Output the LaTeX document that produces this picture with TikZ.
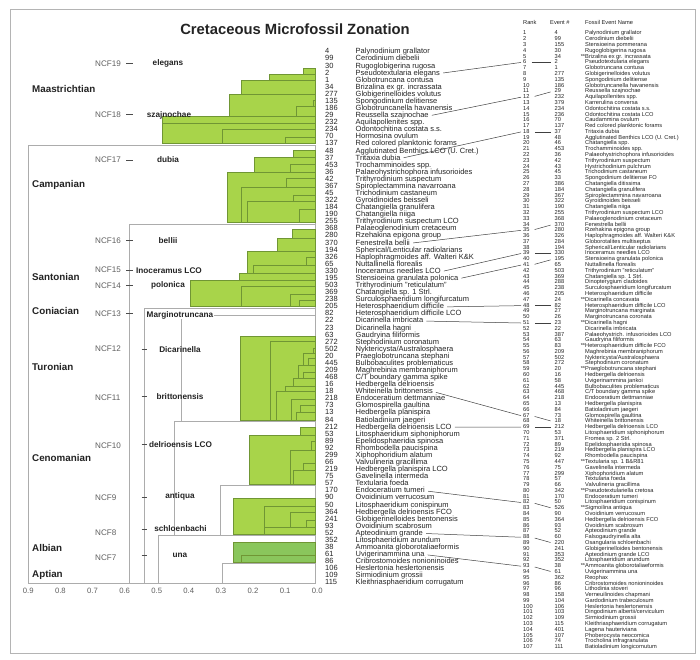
\documentclass[tikz,border=0pt]{standalone}
\usepackage{fontspec}
\setmainfont{Liberation Sans}
\definecolor{leaf}{RGB}{168,212,74}
\definecolor{leafdeep}{RGB}{138,198,92}
\definecolor{leafedge}{RGB}{112,150,52}
\definecolor{boxedge}{RGB}{172,172,172}
\definecolor{ink}{RGB}{35,35,35}
\definecolor{greytext}{RGB}{95,95,95}
\begin{document}
\begin{tikzpicture}[x=1pt,y=-1pt,
  gbox/.style={fill=leaf,draw=leafedge,line width=0.5pt},
  dbox/.style={fill=leafdeep,draw=leafedge,line width=0.5pt},
  wbox/.style={fill=white,draw=boxedge,line width=0.7pt},
  midtext/.style={anchor=west,inner xsep=1pt,inner ysep=0pt,text=ink,font=\fontsize{7.5}{8}\selectfont,text height=5.4pt,text depth=1.6pt},
  smalltext/.style={anchor=west,inner xsep=2pt,inner ysep=0pt,text=ink,font=\fontsize{5.7}{6}\selectfont,text height=4.1pt,text depth=1.2pt},
  stage/.style={anchor=west,inner sep=0pt,text=ink,font=\bfseries\fontsize{9.8}{10}\selectfont},
  ncf/.style={anchor=west,inner sep=0pt,text=greytext,font=\fontsize{8.1}{9}\selectfont},
  zone/.style={inner sep=0pt,text=ink,font=\bfseries\fontsize{8.2}{9}\selectfont},
  axlab/.style={inner sep=0pt,text=greytext,font=\fontsize{7.7}{8}\selectfont},
  tick/.style={draw=black!70,line width=0.8pt},
  link/.style={draw=black!75,line width=0.5pt}]
\useasboundingbox (0,0) rectangle (700,659);
\draw[boxedge!90,line width=1pt] (10,9) rectangle (695,653);
\node[font=\bfseries\fontsize{14.8}{16}\selectfont,text=ink] (title) at (295,29.3) {Cretaceous Microfossil Zonation};

\foreach \x/\y in {303.3/68.3,269/74.5,241/80,229.3/94,313.3/100,296/106.7,162/116.5,162/123.3,222.5/129.3,285/137.7}
  \draw[gbox] (\x,\y) rectangle (315.5,143.5);
\draw[wbox] (28.3,145) rectangle (315.5,583);
\foreach \x/\y in {293.3/150,254.3/157.3,290.7/164,227.7/172.5,286/178.3,241.3/187,293.3/195,247/201,299.3/209.3}
  \draw[gbox] (\x,\y) rectangle (315.5,222.7);
\draw[wbox] (129.3,224) rectangle (315.5,583);
\foreach \x/\y in {292.7/229.3,277.3/238,247.3/251,306.7/257,253.3/265.7,239.3/273.3,190/280,241.7/286.7,290/294,299.3/300}
  \draw[gbox] (\x,\y) rectangle (315.5,306.7);
\draw[wbox] (144,308) rectangle (315.5,583);
\draw[wbox] (181,315) rectangle (315.5,583);
\foreach \x/\y in {240.7/336.7,270/341.7,313.3/348,303.3/353,308.3/358.5,298/365,303/372,293.3/378.5,285/386,276/391.7,291/399,300/405.5,296/412}
  \draw[gbox] (\x,\y) rectangle (315.5,420);
\draw[wbox] (174,421) rectangle (315.5,583);
\foreach \x/\y in {300/427.3,249.3/435,311.7/441.7,290/450,303.3/463.3,293.3/470}
  \draw[gbox] (\x,\y) rectangle (315.5,484.3);
\draw[wbox] (220,485.5) rectangle (315.5,583);
\foreach \x/\y in {233.3/498.3,264.3/506,290/512,306/520,264.3/527.3}
  \draw[gbox] (\x,\y) rectangle (315.5,534.3);
\draw[wbox] (158.3,535) rectangle (315.5,583);
\foreach \x/\y in {233.3/542.3,241/555}
  \draw[dbox] (\x,\y) rectangle (315.5,562.3);
\draw[wbox] (222.5,563.5) rectangle (315.5,583);

\foreach \v [count=\j from 0] in {0.9,0.8,0.7,0.6,0.5,0.4,0.3,0.2,0.1,0.0}
  \node[axlab] (ax\j) at ({28.3+32.1*\j},591) {\v};

\foreach \t/\y [count=\s] in {Maastrichtian/89,Campanian/185,Santonian/276.7,Coniacian/311,Turonian/366.7,Cenomanian/458.3,Albian/547.7,Aptian/575}
  \node[stage] (stage\s) at (32,\y) {\t};
\foreach \z/\y in {19/63.3,18/114.3,17/160,16/240.7,15/270,14/285.7,13/313.3,12/348.3,11/397.7,10/445.7,9/497.3,8/532.3,7/557.7}
  \node[ncf] (ncf\z) at (95,\y) {NCF\z};
\foreach \y in {63.3,114.3,160,240.7,270,285.7,313.3}
  \draw[tick] (126,\y) -- (133.3,\y);
\foreach \y in {349,396.7,444,497.3,529,555}
  \draw[tick] (141.7,\y) -- (147.3,\y);
\foreach \x/\y/\t [count=\q] in {168/63.3/elegans,169/115/szajnochae,168/160/dubia,168/241/bellii,169/271/Inoceramus LCO,168/285.5/polonica}
  \node[zone] (zone\q) at (\x,\y) {\t};
\node[zone,fill=white,inner xsep=1pt] (zone7) at (180,315) {Marginotruncana};
\foreach \x/\y/\t [count=\q from 8] in {180/349.3/Dicarinella,180/397/brittonensis,180.5/444.7/delrioensis LCO,180/496/antiqua,180.5/529/schloenbachi,180/555/una}
  \node[zone] (zone\q) at (\x,\y) {\t};

\foreach \ev/\txt [count=\i] in {
  4/Palynodinium grallator, 99/Cerodinium diebelii, 30/Rugoglobigerina rugosa,
  2/Pseudotextularia elegans, 1/Globotruncana contusa, 34/Brizalina ex gr. incrassata,
  277/Globigerinelloides volutus, 135/Spongodinium delitiense, 186/Globotruncanella havanensis,
  29/Reussella szajnochae, 232/Aquilapollenites spp., 234/Odontochitina costata s.s.,
  70/Hormosina ovulum, 137/Red colored planktonic forams, 48/Agglutinated Benthics LCO (U. Cret.),
  37/Tritaxia dubia, 453/Trochamminoides spp., 36/Palaeohystrichophora infusorioides,
  42/Trithyrodinium suspectum, 367/Spiroplectammina navarroana, 45/Trichodinium castaneum,
  322/Gyroidinoides beisseli, 184/Chatangiella granulifera, 190/Chatangiella  niiga,
  255/Trithyrodinium suspectum LCO, 368/Palaeoglenodinium cretaceum, 280/Rzehakina epigona group,
  370/Fenestrella bellii, 194/{Spherical/Lenticular radiolarians}, 326/Haplophragmoides aff. Walteri K\&K,
  65/Nuttallinella florealis, 330/Inoceramus needles LCO, 195/Stensioeina granulata polonica,
  503/Trithyrodinium "reticulatum", 369/Chatangiella  sp. 1 Strl., 238/Surculosphaeridium longifurcatum,
  205/Heterosphaeridium difficile, 82/Heterosphaeridium difficile LCO, 22/Dicarinella imbricata,
  23/Dicarinella hagni, 63/Gaudryina filiformis, 272/Stephodinium coronatum,
  502/{Nyktericysta/Australosphaera}, 20/Praeglobotruncana stephani, 445/Bulbobaculites problematicus,
  209/Maghrebinia membraniphorum, 468/{C/T boundary gamma spike}, 16/Hedbergella delrioensis,
  18/Whiteinella brittonensis, 218/Endoceratium dettmanniae, 73/Glomospirella gaultina,
  13/Hedbergella planispira, 84/Batioladinium jaegeri, 212/Hedbergella delrioensis LCO,
  53/Litosphaeridium siphoniphorum, 89/Epelidosphaeridia spinosa, 92/Rhombodella paucispina,
  299/Xiphophoridium alatum, 66/Valvulineria gracillima, 219/Hedbergella planispira LCO,
  75/Gavelinella intermeda, 57/Textularia foeda, 170/Endoceratium tumeri,
  90/Ovoidinium verrucosum, 50/Litosphaeridium conispinum, 364/Hedbergella delrioensis FCO,
  241/Globigerinelloides bentonensis, 93/Ovoidinium scabrosum, 52/Apteodinium grande,
  352/Litosphaeridium arundum, 38/Ammoanita globorotaliaeformis, 61/Uvigerinammina una,
  86/Cribrostomoides nonioninoides, 106/Heslertonia heslertonensis, 109/Sirmiodinium grossii,
  115/Kleithriasphaeridium corrugatum} {
  \node[midtext] (m\i) at (324,{52+7.08*(\i-1)}) {\ev};
  \node[midtext] (n\i) at (354.5,{52+7.08*(\i-1)}) {\txt};
}

\node[smalltext] (hrank) at (521,22.7) {Rank};
\node[smalltext] (hevent) at (548,22.7) {Event \#};
\node[smalltext] (hname) at (583,22.7) {Fossil Event Name};
\foreach \ev/\txt [count=\k] in {
  4/Palynodinium grallator, 99/Cerodinium diebelii, 155/Stensioeina pommerana,
  30/Rugoglobigerina rugosa, 34/{\llap{**}Brizalina ex gr. incrassata}, 2/Pseudotextularia elegans,
  1/Globotruncana contusa, 277/Globigerinelloides volutus, 135/Spongodinium delitiense,
  186/Globotruncanella havanensis, 29/Reussella szajnochae, 232/Aquilapollenites spp.,
  379/Karrerulina conversa, 234/Odontochitina costata s.s., 236/Odontochitina costata LCO,
  70/Caudammina ovulum, 137/Red colored planktonic forams, 37/Tritaxia dubia,
  48/Agglutinated Benthics LCO (U. Cret.), 46/Chatangiella spp., 453/Trochamminoides spp.,
  36/Palaeohystrichophora infusorioides, 42/Trithyrodinium suspectum, 43/Hystrichodinium pulchrum,
  45/Trichodinium castaneum, 33/Spongodinium delitiense FO, 386/Chatangiella ditissima,
  184/Chatangiella granulifera, 367/Spiroplectammina navarroana, 322/Gyroidinoides beisseli,
  190/Chatangiella  niiga, 255/Trithyrodinium suspectum LCO, 368/Palaeoglenodinium cretaceum,
  370/Fenestrella bellii, 280/Rzehakina epigona group, 326/Haplophragmoides aff. Walteri K\&K,
  284/Globorotalites multiseptus, 194/{Spherical/Lenticular radiolarians}, 330/Inoceramus needles LCO,
  195/Stensioeina granulata polonica, 65/Nuttallinella florealis, 503/Trithyrodinium "reticulatum",
  369/Chatangiella  sp. 1 Strl., 288/Dinopterygium cladoides, 238/Surculosphaeridium longifurcatum,
  205/Heterosphaeridium difficile, 24/{\llap{**}Dicarinella concavata}, 82/Heterosphaeridium difficile LCO,
  27/Marginotruncana marginata, 26/Marginotruncana coronata, 23/{\llap{**}Dicarinella hagni},
  22/Dicarinella imbricata, 387/Palaeohystrich. infusorioides LCO, 63/Gaudryina filiformis,
  83/{\llap{**}Heterosphaeridium difficile FCO}, 209/Maghrebinia membraniphorum, 502/{Nyktericysta/Australosphaera},
  272/Stephodinium coronatum, 20/{\llap{**}Praeglobotruncana stephani}, 16/Hedbergella delrioensis,
  58/Uvigerinammina jankoi, 445/Bulbobaculites problematicus, 468/{C/T boundary gamma spike},
  218/Endoceratium dettmanniae, 13/Hedbergella planispira, 84/Batioladinium jaegeri,
  73/Glomospirella gaultina, 18/Whiteinella brittonensis, 212/Hedbergella delrioensis LCO,
  53/Litosphaeridium siphoniphorum, 371/Fromea sp. 2 Strl., 89/Epelidosphaeridia spinosa,
  219/Hedbergella planispira LCO, 92/Rhombodella paucispina, 447/{\llap{**}Textularia sp. 1 B\&R81},
  75/Gavelinella intermeda, 299/Xiphophoridium alatum, 57/Textularia foeda,
  66/Valvulineria gracillima, 342/{\llap{**}Pseudotextulariella cretosa}, 170/Endoceratium tumeri,
  50/Litosphaeridium conispinum, 526/{\llap{**}Sigmoilina antiqua}, 90/Ovoidinium verrucosum,
  364/Hedbergella delrioensis FCO, 93/Ovoidinium scabrosum, 52/Apteodinium grande,
  60/Falsogaudryinella alta, 220/Osangularia schloenbachi, 241/Globigerinelloides bentonensis,
  353/Apteodinium grande LCO, 352/Litosphaeridium arundum, 38/{\llap{**}Ammoanita globorotaliaeformis},
  61/Uvigerinammina una, 362/Reophax, 86/Cribrostomoides nonioninoides,
  96/Lithodinia stoveri, 158/Verneuilinoides chapmani, 104/Gardodinium trabeculosum,
  106/Heslertonia heslertonensis, 103/{Dingodinium albertii/cerviculum}, 109/Sirmiodinium grossii,
  115/Kleithriasphaeridium corrugatum, 401/Lagena hauteriviana, 107/Phoberocysta neocomica,
  74/Trocholina infragranulata, 111/Batioladinium longicornutum} {
  \node[smalltext] (r\k) at (521,{33.5+5.79*(\k-1)}) {\k};
  \node[smalltext] (e\k) at (552.5,{33.5+5.79*(\k-1)}) {\ev};
  \node[smalltext] (f\k) at (583,{33.5+5.79*(\k-1)}) {\txt};
}

\foreach \a/\b/\c in {4/6/6,10/12/11,16/18/18,28/35/34,32/39/39,33/41/40,37/48/48,39/51/51,49/67/68,54/69/69,63/82/83,69/88/89,72/93/94} {
  \draw[link,shorten <=2pt] (n\a.east) -- (r\b.west);
  \draw[link,shorten <=3pt,shorten >=2pt] (r\b.east) -- (e\c.west);
}
\end{tikzpicture}
\end{document}
